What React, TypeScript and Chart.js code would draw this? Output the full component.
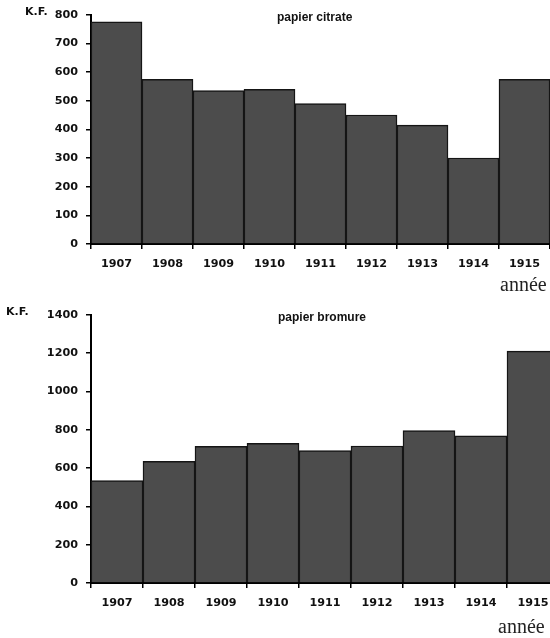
import React, { useEffect, useRef } from "react";
import { Chart, registerables } from "chart.js";

Chart.register(...registerables);

// ---- data ----
const years = ["1907", "1908", "1909", "1910", "1911", "1912", "1913", "1914", "1915"];
const citrateValues = [775, 575, 535, 540, 490, 450, 415, 300, 575];
const bromureValues = [535, 635, 713, 729, 691, 715, 796, 768, 1210];
const citrateAxis = { max: 800, step: 100 };
const bromureAxis = { max: 1400, step: 200 };
const unitLabel = "K.F.";
const xAxisLabel = "année";
const citrateTitle = "papier citrate";
const bromureTitle = "papier bromure";

const TICK_FONT = { family: "'DejaVu Sans', sans-serif", size: 11.2, weight: "bold" as const };

type PanelProps = {
  values: number[];
  max: number;
  step: number;
  title: string;
  width: number;
  height: number;
  top: number;
  plotTop: number;
  plotBottom: number;
  plotLeft: number;
  plotRight: number;
  unitX: number;
  titleX: number;
  anneeX: number;
  anneeBaseline: number;
};

function Panel(p: PanelProps) {
  const ref = useRef<HTMLCanvasElement | null>(null);
  useEffect(() => {
    const canvas = ref.current;
    if (!canvas) return;
    const textPlugin = {
      id: "extraText",
      afterDraw(chart: any) {
        const ctx = chart.ctx;
        ctx.save();
        ctx.fillStyle = "#111";
        ctx.textBaseline = "middle";
        ctx.textAlign = "left";
        ctx.font = "bold 11px 'DejaVu Sans', sans-serif";
        ctx.fillText(unitLabel, p.unitX, p.plotTop);
        ctx.font = "bold 12px 'Liberation Sans', Arial, sans-serif";
        ctx.fillText(p.title, p.titleX, p.plotTop + 6);
        ctx.textBaseline = "alphabetic";
        ctx.font = "20px 'Liberation Serif', 'Times New Roman', serif";
        ctx.fillStyle = "#222";
        ctx.fillText(xAxisLabel, p.anneeX, p.anneeBaseline);
        ctx.restore();
      },
    };
    const chart = new Chart(canvas, {
      type: "bar",
      data: {
        labels: years,
        datasets: [
          {
            data: p.values,
            backgroundColor: "#4c4c4c",
            borderColor: "#151515",
            borderWidth: 1.5,
            barPercentage: 1,
            categoryPercentage: 1,
          },
        ],
      },
      options: {
        animation: false,
        responsive: false,
        devicePixelRatio: 1,
        layout: {
          padding: { top: p.plotTop, left: 0, right: p.width - p.plotRight, bottom: 0 },
        },
        plugins: { legend: { display: false }, tooltip: { enabled: false }, title: { display: false } },
        scales: {
          x: {
            offset: true,
            grid: {
              display: true,
              offset: true,
              drawOnChartArea: false,
              drawTicks: true,
              tickLength: 5,
              color: "#000",
              lineWidth: 1.5,
            },
            border: { display: true, color: "#000", width: 2 },
            ticks: { color: "#111", font: TICK_FONT, padding: 8, maxRotation: 0, autoSkip: false },
            afterFit(scale: any) {
              scale.height = p.height - p.plotBottom;
            },
          },
          y: {
            min: 0,
            max: p.max,
            grid: {
              display: true,
              drawOnChartArea: false,
              drawTicks: true,
              tickLength: 5,
              color: "#000",
              lineWidth: 1.5,
            },
            border: { display: true, color: "#000", width: 2 },
            ticks: {
              stepSize: p.step,
              color: "#111",
              font: TICK_FONT,
              padding: 8,
              callback: (v: any) => String(v),
            },
            afterFit(scale: any) {
              scale.width = p.plotLeft;
            },
          },
        },
      },
      plugins: [textPlugin],
    });
    return () => chart.destroy();
  }, []);
  return (
    <canvas
      ref={ref}
      width={p.width}
      height={p.height}
      style={{ position: "absolute", left: 0, top: p.top, width: p.width, height: p.height, display: "block" }}
    />
  );
}

export default function App() {
  return (
    <div
      style={{
        position: "fixed",
        left: 0,
        top: 0,
        width: 550,
        height: 638,
        overflow: "hidden",
        background: "#fff",
      }}
    >
      <Panel
        values={citrateValues}
        max={citrateAxis.max}
        step={citrateAxis.step}
        title={citrateTitle}
        width={550}
        height={300}
        top={0}
        plotTop={12}
        plotBottom={244}
        plotLeft={91}
        plotRight={550}
        unitX={25}
        titleX={277}
        anneeX={500}
        anneeBaseline={291}
      />
      <Panel
        values={bromureValues}
        max={bromureAxis.max}
        step={bromureAxis.step}
        title={bromureTitle}
        width={570}
        height={338}
        top={300}
        plotTop={12}
        plotBottom={283}
        plotLeft={91}
        plotRight={559}
        unitX={6}
        titleX={278}
        anneeX={498}
        anneeBaseline={333}
      />
    </div>
  );
}
